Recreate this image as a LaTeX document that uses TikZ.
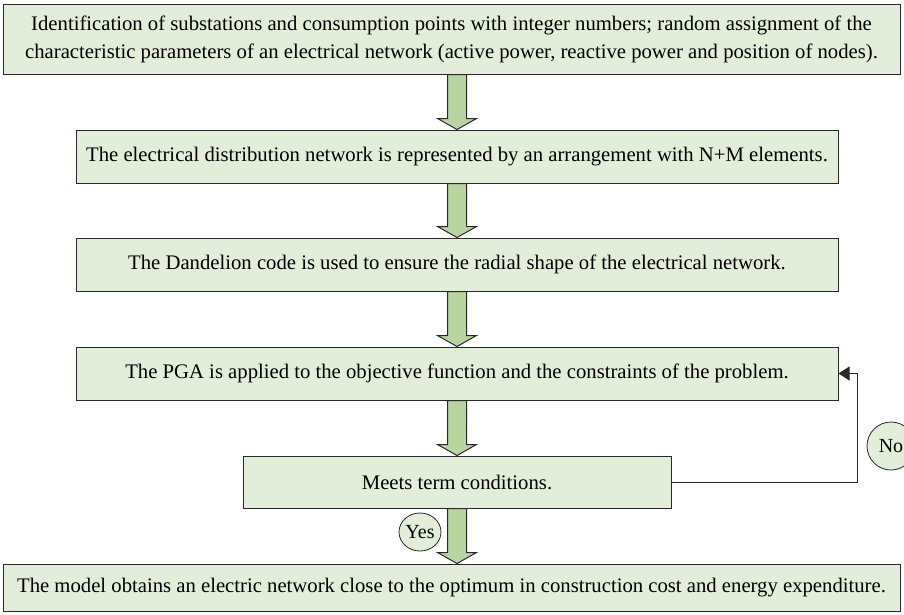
\documentclass[tikz,border=0pt]{standalone}
\usepackage{fontspec}
\setmainfont{Liberation Serif}
\usetikzlibrary{calc,shadows,arrows.meta,shapes.geometric}

\definecolor{boxfill}{RGB}{226,238,217}
\definecolor{arrowfill}{RGB}{184,213,160}
\definecolor{edge}{RGB}{40,40,40}

\tikzset{
  stepbox/.style={draw=edge, line width=1pt, fill=boxfill, inner sep=0pt,
    align=center, font=\fontsize{20.7}{28}\selectfont,
    drop shadow={shadow xshift=1.2pt, shadow yshift=-1.2pt, fill=black!65, opacity=1}},
  tag/.style={draw=edge, line width=0.8pt, fill=boxfill, inner sep=0pt,
    font=\fontsize{20}{22}\selectfont},
  fatarrow/.style={draw=edge, line width=1pt, fill=arrowfill, line join=miter},
  loopline/.style={draw=edge, line width=1pt, -{Triangle[length=11pt,width=14pt]}}
}

% block arrow from #1.south to #2.north, centred on the x of node #3
\newcommand\blockarrow[3]{%
  \path let \p1=(#1.south), \p2=(#2.north), \p3=(#3.center) in
    [fatarrow] (\x3-9.5pt,\y1) -- (\x3-9.5pt,\y2+11pt) -- (\x3-19.5pt,\y2+11pt)
    -- (\x3,\y2) -- (\x3+19.5pt,\y2+11pt) -- (\x3+9.5pt,\y2+11pt)
    -- (\x3+9.5pt,\y1) -- cycle;}

\begin{document}
\begin{tikzpicture}[x=1pt,y=-1pt]
  \useasboundingbox (0,0) rectangle (904,614);
  \begin{scope}
  \clip (0,0) rectangle (904,614);

  \node[stepbox, minimum width=897pt, minimum height=70pt] (b1) at (451.5,39)
    {Identification of substations and consumption points with integer numbers; random assignment of the\\
     characteristic parameters of an electrical network (active power, reactive power and position of nodes).};
  \node[stepbox, minimum width=762pt, minimum height=53pt] (b2) at (457,156.5)
    {The electrical distribution network is represented by an arrangement with N+M elements.};
  \node[stepbox, minimum width=762pt, minimum height=53pt] (b3) at (457,264.5)
    {The Dandelion code is used to ensure the radial shape of the electrical network.};
  \node[stepbox, minimum width=762pt, minimum height=53pt] (b4) at (457,373.5)
    {The PGA is applied to the objective function and the constraints of the problem.};
  \node[stepbox, minimum width=428pt, minimum height=52pt] (b5) at (457,482)
    {Meets term conditions.};
  \node[stepbox, minimum width=897pt, minimum height=47pt] (b6) at (451.5,587.5)
    {The model obtains an electric network close to the optimum in construction cost and energy expenditure.};

  \blockarrow{b1}{b2}{b2}
  \blockarrow{b2}{b3}{b2}
  \blockarrow{b3}{b4}{b3}
  \blockarrow{b4}{b5}{b4}
  \blockarrow{b5}{b6}{b5}

  % "No" branch loops back to the PGA step
  \coordinate (loopx) at (857,0);
  \draw[loopline] (b5.east) -- (b5.east -| loopx) -- (b4.east -| loopx) -- (b4.east);

  \node[tag, circle, minimum size=48pt] (no) at (891,446) {No};
  \node[tag, ellipse, minimum width=42pt, minimum height=38pt] (yes) at (420,532) {Yes};
  \end{scope}
\end{tikzpicture}
\end{document}
